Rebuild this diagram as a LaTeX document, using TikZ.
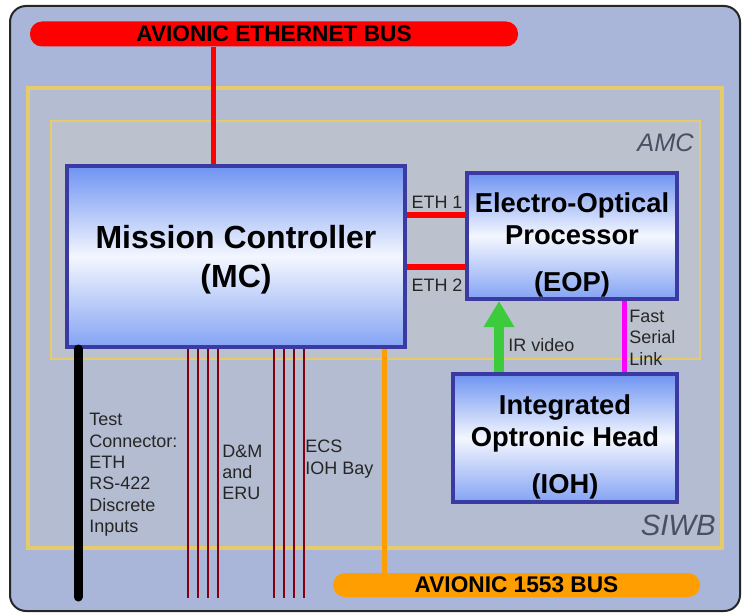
\documentclass[tikz,border=0pt]{standalone}
\usepackage{fontspec}
\setmainfont{Liberation Sans}
\usepackage{xcolor}
\usetikzlibrary{arrows.meta}
\definecolor{framebg}{HTML}{A9B6DA}
\definecolor{siwbbg}{HTML}{B3BCD0}
\definecolor{amcbg}{HTML}{BCC2CD}
\definecolor{zoneline}{HTML}{E6CB6C}
\definecolor{zonetext}{HTML}{4A5062}
\definecolor{boxblue}{HTML}{6E93F2}
\definecolor{boxedge}{HTML}{3A3AA2}
\definecolor{ethred}{HTML}{FF0000}
\definecolor{busorange}{HTML}{FF9E00}
\definecolor{wirered}{HTML}{820010}
\definecolor{videogreen}{HTML}{3CCB3C}
\definecolor{linkpink}{HTML}{FF00FF}
\newlength{\px}
\setlength{\px}{0.75pt}

\begin{document}
\begin{tikzpicture}[
  x=0.75pt, y=-0.75pt,
  every node/.style={align=center},
  unitbox/.style={rectangle, draw=boxedge, line width=4\px,
    top color=boxblue, bottom color=boxblue!85!white, middle color=white!92!boxblue},
  unittext/.style={align=center, inner sep=0pt, font=\fontsize{20.5}{24}\selectfont\bfseries},
  zonebox/.style={rectangle, draw=zoneline},
  zonelabel/.style={inner sep=0pt, text=zonetext, font=\fontsize{19}{22}\selectfont\itshape},
  busbar/.style={rectangle, rounded corners=12\px, inner sep=0pt,
    font=\fontsize{17}{20}\selectfont\bfseries},
  wirelabel/.style={inner sep=0pt, align=left, text=black!85,
    font=\fontsize{13.5}{16}\selectfont},
  ethwire/.style={line width=5\px, ethred},
  sigwire/.style={line width=2\px, wirered}
]
\useasboundingbox (0,0) rectangle (742,613);
\clip (0,0) rectangle (742,613);

%% Background frame and zones
\draw[fill=framebg, draw=black!85, line width=2\px, rounded corners=16\px]
  (10,6) rectangle (740,611);

\node[zonebox, fill=siwbbg, line width=4\px,
  minimum width=694\px, minimum height=460\px] (siwb) at (375,318) {};
\node[zonebox, fill=amcbg, line width=2\px,
  minimum width=649\px, minimum height=238\px] (amc) at (375.5,240) {};

\node[zonelabel, font=\fontsize{22}{26}\selectfont\itshape, anchor=east]
  (siwblabel) at (716,525) {SIWB};
\node[zonelabel, anchor=east] (amclabel) at (694,143) {AMC};

%% Buses
\node[busbar, fill=ethred, minimum width=488\px, minimum height=25\px]
  (ethbus) at (274,34) {AVIONIC ETHERNET BUS};
\node[busbar, fill=busorange, minimum width=367\px, minimum height=24\px]
  (milbus) at (516.5,585) {AVIONIC 1553 BUS};

%% Units
\node[unitbox, minimum width=338\px, minimum height=181\px,
  label={[unittext, font=\fontsize{24}{27}\selectfont\bfseries, yshift=-2.5pt]center:%
    {Mission Controller\\[2pt](MC)}}] (mc) at (236,256.5) {};
\node[unitbox, minimum width=210\px, minimum height=126\px,
  label={[unittext, yshift=-6.75pt]center:{Electro-Optical\\Processor\\[11pt](EOP)}}]
  (eop) at (572,236) {};
\node[unitbox, minimum width=224\px, minimum height=128\px,
  label={[unittext, yshift=-6.75pt]center:{Integrated\\Optronic Head\\[11pt](IOH)}}]
  (ioh) at (565,438) {};

%% Wire ends below the MC
\coordinate (testend) at (78,597);
\coordinate (dmend) at (188,598);
\coordinate (ecsend) at (274,598);

%% Ethernet links
\draw[ethwire] (ethbus.south -| 213,0) -- (mc.north -| 213,0);
\draw[ethwire, line width=6\px] (mc.east |- 0,215) -- (eop.west |- 0,215);
\draw[ethwire, line width=6\px] (mc.east |- 0,267) -- (eop.west |- 0,267);
\node[wirelabel] (eth1) at (437,202) {ETH 1};
\node[wirelabel] (eth2) at (437,285) {ETH 2};

%% EOP <-> IOH
\draw[videogreen, line width=10\px, -{Triangle[length=19.5pt, width=21.75pt]}]
  (ioh.north -| 499,0) -- (eop.south -| 499,0);
\draw[linkpink, line width=5\px] (eop.south -| 624,0) -- (ioh.north -| 624,0);
\node[wirelabel, anchor=west] (irvideo) at (508,345) {IR video};
\node[wirelabel, anchor=west] (fastlink) at (629,337.5) {Fast\\Serial\\Link};

%% Wires leaving the MC
\draw[black, line width=9\px, line cap=round] (mc.south -| testend) -- (testend);
\foreach \dx in {0,10,20,30} {
  \draw[sigwire] ([xshift=0.75*\dx pt]mc.south -| dmend) -- ([xshift=0.75*\dx pt]dmend);
  \draw[sigwire] ([xshift=0.75*\dx pt]mc.south -| ecsend) -- ([xshift=0.75*\dx pt]ecsend);
}
\draw[busorange, line width=5\px] (mc.south -| 384,0) -- (milbus.center -| 384,0);

\node[wirelabel, anchor=west] (testlabel) at (89,475)
  {Test\\Connector:\\ETH\\RS-422\\Discrete\\Inputs};
\node[wirelabel, anchor=west] (dmlabel) at (222,472.5) {D\&M\\and\\ERU};
\node[wirelabel, anchor=west] (ecslabel) at (305,459) {ECS\\IOH Bay};

\end{tikzpicture}
\end{document}
